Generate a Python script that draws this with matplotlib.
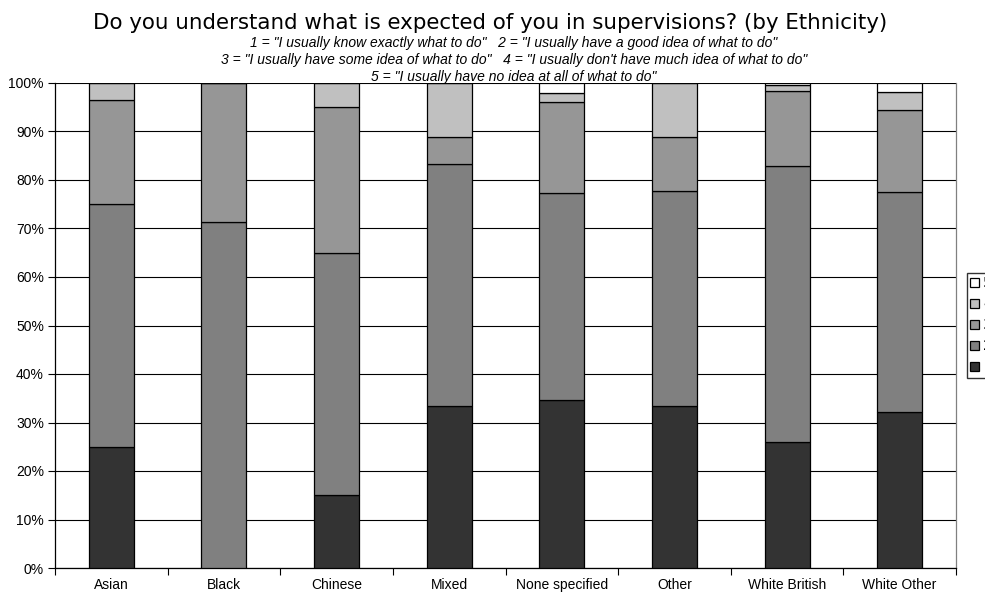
import numpy as np
import matplotlib

matplotlib.use("Agg")
import matplotlib.pyplot as plt
from matplotlib.patches import Patch
from matplotlib.ticker import FixedLocator

# data (percent of respondents per answer)
ethnicities = ["Asian", "Black", "Chinese", "Mixed", "None specified",
               "Other", "White British", "White Other"]
answer_1 = [25.0, 0.0, 15.0, 33.3, 34.6, 33.3, 26.0, 32.1]
answer_2 = [50.0, 71.4, 50.0, 50.0, 42.7, 44.5, 56.9, 45.4]
answer_3 = [21.4, 28.6, 30.0, 5.6, 18.7, 11.1, 15.5, 16.9]
answer_4 = [3.6, 0.0, 5.0, 11.1, 2.0, 11.1, 1.2, 3.8]
answer_5 = [0.0, 0.0, 0.0, 0.0, 2.0, 0.0, 0.4, 1.8]
answer_labels = ["1", "2", "3", "4", "5"]
y_ticks = list(range(0, 101, 10))

colors = ["#333333", "#808080", "#969696", "#C0C0C0", "#FFFFFF"]

title = "Do you understand what is expected of you in supervisions? (by Ethnicity)"
subtitle = [
    '1 = "I usually know exactly what to do"   2 = "I usually have a good idea of what to do"',
    '3 = "I usually have some idea of what to do"   4 = "I usually don\'t have much idea of what to do"',
    '5 = "I usually have no idea at all of what to do"',
]

W, H = 985, 593
fig = plt.figure(figsize=(W / 100, H / 100), dpi=100)
fig.patch.set_facecolor("white")

# plot area in pixels: left 55, right 956, top 83, bottom 568
ax = fig.add_axes([55 / W, 1 - 568 / H, (956 - 55) / W, (568 - 83) / H])

series = np.array([answer_1, answer_2, answer_3, answer_4, answer_5])
series = series / series.sum(axis=0) * 100
x = np.arange(len(ethnicities))
bottom = np.zeros(len(ethnicities))
for values, color in zip(series, colors):
    ax.bar(x, values, width=0.4, bottom=bottom, color=color,
           edgecolor="#000000", linewidth=0.9, zorder=3)
    bottom += values

ax.set_xlim(-0.5, len(ethnicities) - 0.5)
ax.set_ylim(0, 100)
ax.set_yticks(y_ticks)
ax.set_yticklabels([f"{t}%" for t in y_ticks], family="Liberation Sans", fontsize=10)
ax.set_xticks(x)
ax.set_xticklabels(ethnicities, family="Liberation Sans", fontsize=10)
ax.xaxis.set_minor_locator(FixedLocator(np.arange(-0.5, len(ethnicities), 1.0)))
ax.tick_params(axis="x", which="major", length=0, pad=7)
ax.tick_params(axis="x", which="minor", length=5, width=0.8, direction="out")
ax.tick_params(axis="y", length=5, width=0.8, direction="out", pad=3)

ax.yaxis.grid(True, color="#000000", linewidth=0.8, zorder=0)
ax.set_axisbelow(True)
for side in ("left", "bottom"):
    ax.spines[side].set_color("#000000")
    ax.spines[side].set_linewidth(0.9)
ax.spines["top"].set_visible(False)
ax.spines["right"].set_color("#808080")
ax.spines["right"].set_linewidth(0.9)

fig.text(490 / W, 1 - 29 / H, title, ha="center", va="baseline",
         family="DejaVu Sans", fontsize=15.4, color="#000000")
for i, line in enumerate(subtitle):
    fig.text(514 / W, 1 - (46.5 + 17.2 * i) / H, line, ha="center", va="baseline",
             family="Liberation Sans", style="italic", fontsize=10, color="#000000")

handles = [Patch(facecolor=c, edgecolor="#000000", linewidth=0.9) for c in colors]
fig.legend(handles[::-1], answer_labels[::-1], loc="upper left",
           bbox_to_anchor=(967 / W, 1 - 273 / H), frameon=True, fancybox=False,
           edgecolor="#000000", fontsize=10, handlelength=0.6, handleheight=0.6,
           handletextpad=0.3, labelspacing=0.5, borderpad=0.25, borderaxespad=0)

fig.savefig("out.png", dpi=100)
